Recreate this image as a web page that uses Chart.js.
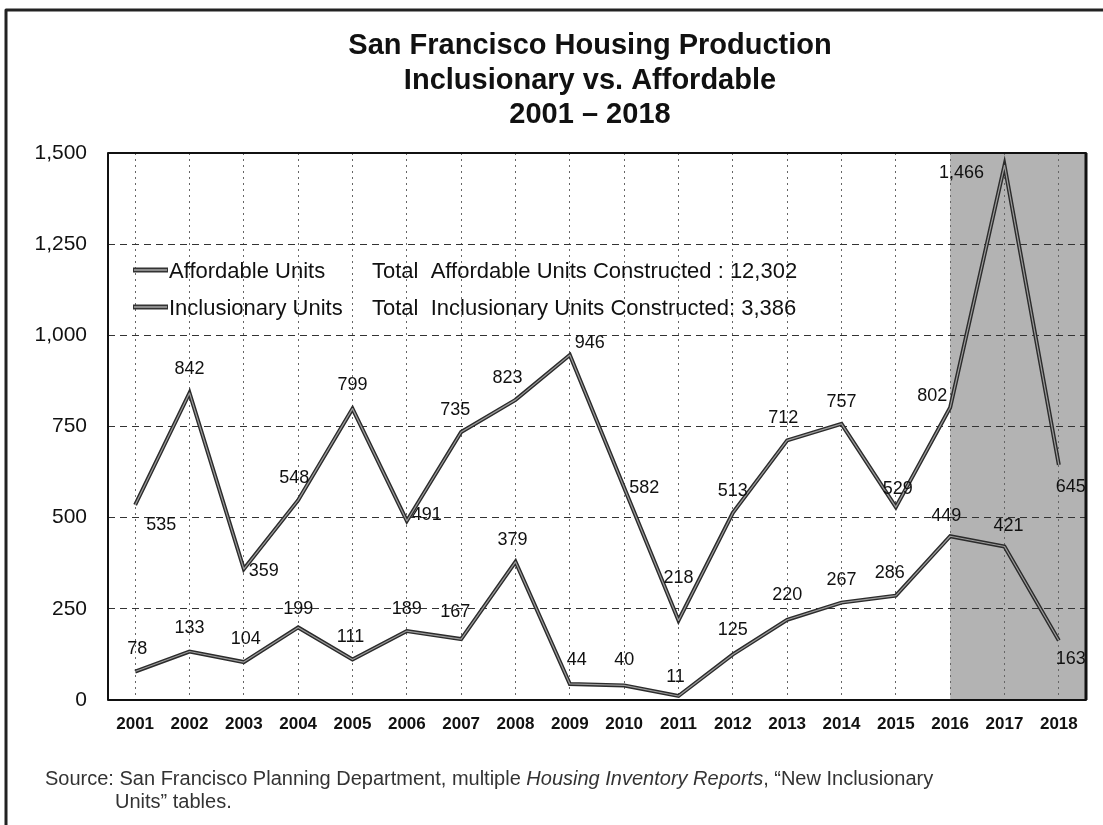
<!DOCTYPE html>
<html><head><meta charset="utf-8">
<script src="https://cdn.jsdelivr.net/npm/chart.js@4.4.1/dist/chart.umd.min.js"></script>
<style>
html,body{margin:0;padding:0;background:#fff;}
#wrap{position:relative;width:1103px;height:825px;overflow:hidden;background:#fff;}
canvas{position:absolute;left:0;top:0;}
</style></head><body>
<div id="wrap"><canvas id="c" width="1103" height="825"></canvas></div>
<script>
// ---- data ----
const categories = ['2001','2002','2003','2004','2005','2006','2007','2008','2009','2010','2011','2012','2013','2014','2015','2016','2017','2018'];
const affordableUnits = [535, 842, 359, 548, 799, 491, 735, 823, 946, 582, 218, 513, 712, 757, 529, 802, 1466, 645];
const inclusionaryUnits = [78, 133, 104, 199, 111, 189, 167, 379, 44, 40, 11, 125, 220, 267, 286, 449, 421, 163];
const yTickValues = [0, 250, 500, 750, 1000, 1250, 1500];
const seriesNames = ['Affordable Units', 'Inclusionary Units'];
const titleLines = ['San Francisco Housing Production', 'Inclusionary vs. Affordable', '2001 \u2013 2018'];
const shadedFrom = '2016';

// label placement (offsets from each point, px) - styling only
const affordableLabelOffsets = [[26,20],[0,-24],[20,2],[-4,-22],[0,-24],[20,-6],[-6,-22],[-8,-22],[20,-12],[20,0],[0,-42],[0,-22],[-4,-22],[0,-22],[2,-18],[-18,-12],[-43,8],[12,22]];
const inclusionaryLabelOffsets = [[2,-23],[0,-23],[2,-23],[0,-18],[-2,-22],[0,-22],[-6,-27],[-3,-22],[7,-24],[0,-25],[-3,-19],[0,-24],[0,-25],[0,-23],[-6,-23],[-4,-20],[4,-20],[12,18]];

const FONT = '"Liberation Sans", Arial, Helvetica, sans-serif';
const fmt = v => v.toLocaleString('en-US');
const sum = arr => arr.reduce((s, v) => s + v, 0);

const decor = {
  id: 'decor',
  beforeDraw(chart) {
    const {ctx, chartArea: a, scales: {x}} = chart;
    ctx.save();
    ctx.fillStyle = '#fff';
    ctx.fillRect(0, 0, chart.width, chart.height);
    const x0 = x.getPixelForValue(categories.indexOf(shadedFrom));
    ctx.fillStyle = '#b3b3b3';
    ctx.fillRect(x0, a.top, a.right - x0, a.bottom - a.top);
    ctx.restore();
  },
  afterDatasetsDraw(chart) {
    const {ctx, chartArea: a} = chart;
    ctx.save();
    // inner light stroke to mimic the double-line look
    chart.data.datasets.forEach((ds, i) => {
      const pts = chart.getDatasetMeta(i).data;
      ctx.beginPath();
      pts.forEach((p, j) => j ? ctx.lineTo(p.x, p.y) : ctx.moveTo(p.x, p.y));
      ctx.strokeStyle = '#9c9c9c';
      ctx.lineWidth = 1.2;
      ctx.lineJoin = 'round';
      ctx.stroke();
    });
    // plot frame
    ctx.strokeStyle = '#111';
    ctx.lineWidth = 2;
    ctx.strokeRect(a.left, a.top, a.right - a.left, a.bottom - a.top);
    ctx.lineWidth = 3;
    ctx.beginPath(); ctx.moveTo(a.right, a.top); ctx.lineTo(a.right, a.bottom); ctx.stroke();

    // data labels
    ctx.font = '18px ' + FONT;
    ctx.fillStyle = '#111';
    ctx.textAlign = 'center';
    ctx.textBaseline = 'middle';
    const offs = [affordableLabelOffsets, inclusionaryLabelOffsets];
    chart.data.datasets.forEach((ds, i) => {
      const pts = chart.getDatasetMeta(i).data;
      pts.forEach((p, j) => {
        const o = offs[i][j];
        ctx.fillText(fmt(ds.data[j]), p.x + o[0], p.y + o[1]);
      });
    });

    // title
    ctx.font = 'bold 29px ' + FONT;
    ctx.textBaseline = 'alphabetic';
    ctx.fillStyle = '#111';
    const tb = [54, 89, 123];
    titleLines.forEach((t, k) => ctx.fillText(t, 590, tb[k]));

    // legend
    const ly = [270, 307];
    const totals = [
      'Total  Affordable Units Constructed : ' + fmt(sum(affordableUnits)),
      'Total  Inclusionary Units Constructed: ' + fmt(sum(inclusionaryUnits))
    ];
    ly.forEach((y, k) => {
      ctx.strokeStyle = '#333'; ctx.lineWidth = 5;
      ctx.beginPath(); ctx.moveTo(133, y); ctx.lineTo(168, y); ctx.stroke();
      ctx.strokeStyle = '#aaa'; ctx.lineWidth = 1.5;
      ctx.beginPath(); ctx.moveTo(134, y); ctx.lineTo(167, y); ctx.stroke();
      ctx.font = '22px ' + FONT;
      ctx.fillStyle = '#111';
      ctx.textAlign = 'left';
      ctx.fillText(seriesNames[k], 169, y + 8);
      ctx.fillText(totals[k], 372, y + 8);
    });

    // source note
    ctx.fillStyle = '#333';
    ctx.textAlign = 'left';
    let sx = 45;
    const parts = [
      ['20px ', 'Source: San Francisco Planning Department, multiple '],
      ['italic 20px ', 'Housing Inventory Reports'],
      ['20px ', ', \u201cNew Inclusionary']
    ];
    parts.forEach(([f, t]) => {
      ctx.font = f + FONT;
      ctx.fillText(t, sx, 785);
      sx += ctx.measureText(t).width;
    });
    ctx.font = '20px ' + FONT;
    ctx.fillText('Units\u201d tables.', 115, 808);

    // outer frame of the figure
    ctx.strokeStyle = '#222';
    ctx.lineWidth = 3;
    ctx.beginPath();
    ctx.moveTo(1103, 10); ctx.lineTo(6, 10); ctx.lineTo(6, 825);
    ctx.stroke();
    ctx.restore();
  }
};

new Chart(document.getElementById('c'), {
  type: 'line',
  data: {
    labels: categories,
    datasets: [
      { label: seriesNames[0], data: affordableUnits, borderColor: '#2b2b2b', borderWidth: 4, pointRadius: 0, tension: 0 },
      { label: seriesNames[1], data: inclusionaryUnits, borderColor: '#2b2b2b', borderWidth: 4, pointRadius: 0, tension: 0 }
    ]
  },
  options: {
    responsive: false,
    animation: false,
    layout: { padding: { top: 153, right: 17, bottom: 85, left: 0 } },
    plugins: { legend: { display: false }, title: { display: false }, tooltip: { enabled: false } },
    scales: {
      x: {
        type: 'category',
        offset: true,
        grid: { offset: false, color: '#666', lineWidth: 1, drawTicks: false, tickLength: 0 },
        border: { display: false, dash: [2, 4] },
        ticks: { color: '#111', font: { family: FONT, size: 17, weight: 'bold' }, padding: 14, maxRotation: 0, autoSkip: false },
        afterFit(s) { s.height = 40; }
      },
      y: {
        min: 0, max: 1500,
        afterBuildTicks(s) { s.ticks = yTickValues.map(v => ({ value: v })); },
        grid: { color: '#333', lineWidth: 1, drawTicks: false, tickLength: 0 },
        border: { display: false, dash: [7, 5] },
        ticks: { color: '#111', font: { family: FONT, size: 21 }, padding: 21, callback: v => fmt(v) },
        afterFit(s) { s.width = 108; }
      }
    }
  },
  plugins: [decor]
});
</script></body></html>
